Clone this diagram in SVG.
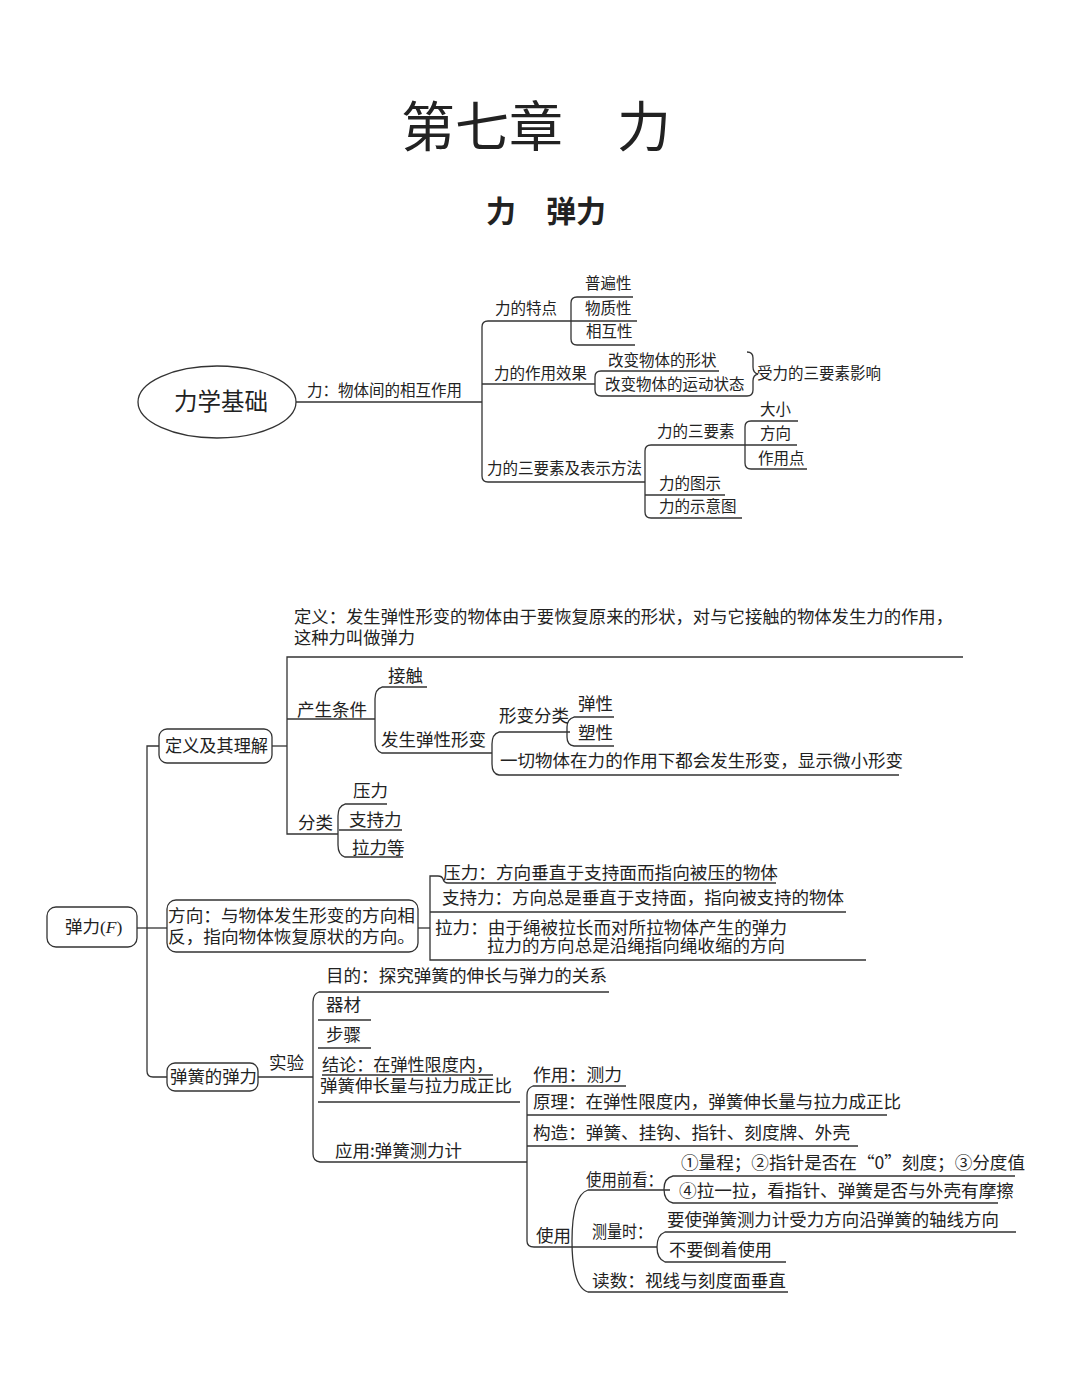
<svg xmlns="http://www.w3.org/2000/svg" width="1080" height="1375" viewBox="0 0 1080 1375">
<style>
text{font-family:"Noto Sans CJK SC","Noto Sans",sans-serif;fill:#222}
.s{font-size:15.5px}
.m{font-size:17.5px}
.d{font-size:16.5px}
.ln{fill:none;stroke:#333;stroke-width:1.3}
.box{fill:#fff;stroke:#333;stroke-width:1.3}
</style>
<rect width="1080" height="1375" fill="#fff"/>
<g id="title">
<text x="401" y="147" font-size="54">第七章　力</text>
</g>
<g id="subtitle">
<text x="486" y="222" font-size="30" font-weight="bold">力　弹力</text>
</g>
<g id="connectors">
<path class="ln" d="M296 402 H482"/>
<path class="ln" d="M571 321 H488 Q482 321 482 327 V476 Q482 482 488 482 H645"/>
<path class="ln" d="M482 384 H595"/>
<path class="ln" d="M633 297 H577 Q571 297 571 303 V339 Q571 345 577 345 H635"/>
<path class="ln" d="M571 321 H637"/>
<path class="ln" d="M719 371 H601 Q595 371 595 377 V390 Q595 396 601 396 H747"/>
<path class="ln" d="M747 352 Q753 352 753 358 V367 Q753 373 758 374 Q753 375 753 381 V390 Q753 396 747 396"/>
<path class="ln" d="M745 445 H651 Q645 445 645 451 V512 Q645 518 651 518 H742"/>
<path class="ln" d="M645 495 H725"/>
<path class="ln" d="M798 421 H751 Q745 421 745 427 V463 Q745 469 751 469 H807"/>
<path class="ln" d="M745 445 H797"/>
<path class="ln" d="M963 657 H287 V834 H338"/>
<path class="ln" d="M272 746 H287"/>
<path class="ln" d="M287 719 H375"/>
<path class="ln" d="M427 687 H382 Q375 689 375 699 V741 Q375 751 382 753 H492"/>
<path class="ln" d="M570 732 H499 Q492 734 492 744 V764 Q492 774 499 775 H899"/>
<path class="ln" d="M614 717 H574 Q567 719 567 727 V737 Q567 745 574 746 H614"/>
<path class="ln" d="M387 804 H345 Q338 806 338 816 V845 Q338 855 345 857 H403"/>
<path class="ln" d="M339 830 H402"/>
<path class="ln" d="M159 746 H147 V1071 Q147 1077 153 1077 H167"/>
<path class="ln" d="M137 928 H167"/>
<path class="ln" d="M418 928 H430"/>
<path class="ln" d="M438 876 H430 V960 H866"/>
<path class="ln" d="M438 876 Q442 876 443 879 Q444 883 448 883 H776"/>
<path class="ln" d="M430 912 H846"/>
<path class="ln" d="M258 1077 H313"/>
<path class="ln" d="M609 992 H319 Q313 994 313 1002 V1154 Q313 1161 320 1162 H527"/>
<path class="ln" d="M318 1020 H371 M318 1048 H371 M322 1075 H493 M318 1102 H520"/>
<path class="ln" d="M626 1086 H533 Q527 1088 527 1095 V1241 Q527 1247 534 1247 H657"/>
<path class="ln" d="M527 1115 H887 M527 1146 H858"/>
<path class="ln" d="M670 1190 H588 Q572 1195 572 1241 Q572 1287 588 1292 H788"/>
<path class="ln" d="M1015 1176 H673 Q664 1178 664 1189 Q664 1201 673 1203 H998"/>
<path class="ln" d="M1016 1232 H665 Q657 1235 657 1247 Q657 1259 665 1262 H786"/>
</g>
<g id="n-root1">
<ellipse class="box" cx="217" cy="402" rx="79" ry="36"/>
<text x="174" y="410" font-size="23.5">力学基础</text>
</g>
<g id="n-def1"><text class="s" x="307" y="396">力：物体间的相互作用</text></g>
<g id="n-tedian"><text class="s" x="495" y="314">力的特点</text></g>
<g id="n-pubian"><text class="s" x="585" y="289">普遍性</text></g>
<g id="n-wuzhi"><text class="s" x="585" y="314">物质性</text></g>
<g id="n-xianghu"><text class="s" x="586" y="337">相互性</text></g>
<g id="n-xiaoguo"><text class="s" x="494" y="379">力的作用效果</text></g>
<g id="n-xingzhuang"><text class="s" x="608" y="366">改变物体的形状</text></g>
<g id="n-yundong"><text class="s" x="605" y="390">改变物体的运动状态</text></g>
<g id="n-yingxiang"><text class="s" x="757" y="379">受力的三要素影响</text></g>
<g id="n-sanyaosu-fa"><text class="s" x="487" y="474">力的三要素及表示方法</text></g>
<g id="n-sanyaosu"><text class="s" x="657" y="437">力的三要素</text></g>
<g id="n-daxiao"><text class="s" x="760" y="415">大小</text></g>
<g id="n-fangxiang"><text class="s" x="760" y="439">方向</text></g>
<g id="n-zuoyongdian"><text class="s" x="758" y="464">作用点</text></g>
<g id="n-tushi"><text class="s" x="659" y="489">力的图示</text></g>
<g id="n-shiyitu"><text class="s" x="659" y="512">力的示意图</text></g>

<g id="n-dingyi">
<text class="d"><tspan x="294" y="623" textLength="659" lengthAdjust="spacingAndGlyphs">定义：发生弹性形变的物体由于要恢复原来的形状，对与它接触的物体发生力的作用，</tspan><tspan x="294" y="644" textLength="121" lengthAdjust="spacingAndGlyphs">这种力叫做弹力</tspan></text>
</g>
<g id="n-tanli">
<rect class="box" x="47" y="907" width="90" height="40" rx="9"/>
<text class="m" x="65" y="933">弹力<tspan font-family="'Liberation Serif',serif">(<tspan font-style="italic">F</tspan>)</tspan></text>
</g>
<g id="n-lijie">
<rect class="box" x="159" y="729" width="113" height="34" rx="8"/>
<text class="m" x="165" y="752" textLength="103" lengthAdjust="spacingAndGlyphs">定义及其理解</text>
</g>
<g id="n-tiaojian"><text class="m" x="297" y="716">产生条件</text></g>
<g id="n-jiechu"><text class="m" x="388" y="682">接触</text></g>
<g id="n-xingbian"><text class="m" x="381" y="746">发生弹性形变</text></g>
<g id="n-fenlei-xb"><text class="m" x="499" y="722">形变分类</text></g>
<g id="n-tanxing"><text class="m" x="578" y="710">弹性</text></g>
<g id="n-suxing"><text class="m" x="578" y="739">塑性</text></g>
<g id="n-yiqie"><text class="m" x="500" y="767" textLength="403" lengthAdjust="spacingAndGlyphs">一切物体在力的作用下都会发生形变，显示微小形变</text></g>
<g id="n-fenlei"><text class="m" x="298" y="829">分类</text></g>
<g id="n-yali"><text class="m" x="353" y="797">压力</text></g>
<g id="n-zhichi"><text class="m" x="349" y="826">支持力</text></g>
<g id="n-lalideng"><text class="m" x="352" y="854">拉力等</text></g>

<g id="n-fangxiangbox">
<rect class="box" x="167" y="900" width="251" height="52" rx="9"/>
<text class="d"><tspan x="168" y="922" textLength="247" lengthAdjust="spacingAndGlyphs">方向：与物体发生形变的方向相</tspan><tspan x="168" y="943" textLength="247" lengthAdjust="spacingAndGlyphs">反，指向物体恢复原状的方向。</tspan></text>
</g>
<g id="n-yali-fx"><text class="m" x="443" y="879" textLength="335" lengthAdjust="spacingAndGlyphs">压力：方向垂直于支持面而指向被压的物体</text></g>
<g id="n-zhichi-fx"><text class="m" x="442" y="904" textLength="402" lengthAdjust="spacingAndGlyphs">支持力：方向总是垂直于支持面，指向被支持的物体</text></g>
<g id="n-lali-fx">
<text class="d"><tspan x="435" y="934" textLength="352" lengthAdjust="spacingAndGlyphs">拉力：由于绳被拉长而对所拉物体产生的弹力</tspan><tspan x="487" y="952" textLength="298" lengthAdjust="spacingAndGlyphs">拉力的方向总是沿绳指向绳收缩的方向</tspan></text>
</g>

<g id="n-tanhuang">
<rect class="box" x="167" y="1063" width="91" height="28" rx="8"/>
<text class="m" x="170" y="1083" textLength="87" lengthAdjust="spacingAndGlyphs">弹簧的弹力</text>
</g>
<g id="n-shiyan"><text class="m" x="269" y="1069">实验</text></g>
<g id="n-mudi"><text class="m" x="326" y="982" textLength="281" lengthAdjust="spacingAndGlyphs">目的：探究弹簧的伸长与弹力的关系</text></g>
<g id="n-qicai"><text class="m" x="326" y="1011">器材</text></g>
<g id="n-buzhou"><text class="m" x="326" y="1041">步骤</text></g>
<g id="n-jielun">
<text class="d"><tspan x="322" y="1071" textLength="171" lengthAdjust="spacingAndGlyphs">结论：在弹性限度内，</tspan><tspan x="320" y="1092" textLength="192" lengthAdjust="spacingAndGlyphs">弹簧伸长量与拉力成正比</tspan></text>
</g>
<g id="n-yingyong"><text class="m" x="335" y="1157" textLength="127" lengthAdjust="spacingAndGlyphs">应用:弹簧测力计</text></g>
<g id="n-zuoyong"><text class="m" x="533" y="1081" textLength="89" lengthAdjust="spacingAndGlyphs">作用：测力</text></g>
<g id="n-yuanli"><text class="m" x="533" y="1108" textLength="368" lengthAdjust="spacingAndGlyphs">原理：在弹性限度内，弹簧伸长量与拉力成正比</text></g>
<g id="n-gouzao"><text class="m" x="533" y="1139" textLength="317" lengthAdjust="spacingAndGlyphs">构造：弹簧、挂钩、指针、刻度牌、外壳</text></g>
<g id="n-shiyong"><text class="m" x="536" y="1242">使用</text></g>
<g id="n-qiankan"><text class="m" x="586" y="1186" textLength="77" lengthAdjust="spacingAndGlyphs">使用前看：</text></g>
<g id="n-liangcheng"><text class="m" x="681" y="1169" textLength="344" lengthAdjust="spacingAndGlyphs">①量程；②指针是否在“0”刻度；③分度值</text></g>
<g id="n-layila"><text class="m" x="679" y="1197" textLength="335" lengthAdjust="spacingAndGlyphs">④拉一拉，看指针、弹簧是否与外壳有摩擦</text></g>
<g id="n-celiang"><text class="m" x="592" y="1238" textLength="60" lengthAdjust="spacingAndGlyphs">测量时：</text></g>
<g id="n-zhouxian"><text class="m" x="667" y="1226" textLength="332" lengthAdjust="spacingAndGlyphs">要使弹簧测力计受力方向沿弹簧的轴线方向</text></g>
<g id="n-daozhe"><text class="m" x="669" y="1256" textLength="103" lengthAdjust="spacingAndGlyphs">不要倒着使用</text></g>
<g id="n-dushu"><text class="m" x="592" y="1287" textLength="194" lengthAdjust="spacingAndGlyphs">读数：视线与刻度面垂直</text></g>
</svg>
